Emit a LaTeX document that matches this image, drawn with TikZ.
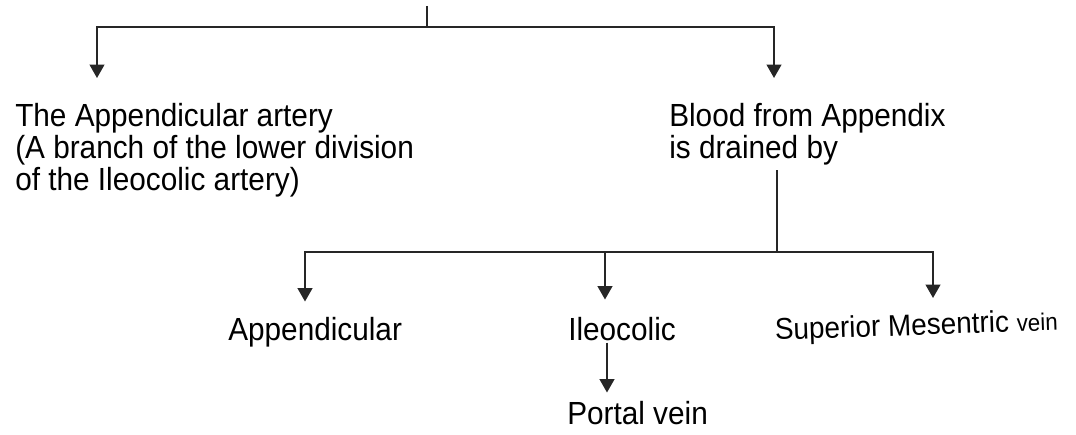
\documentclass[tikz,border=0pt]{standalone}
\usepackage{fontspec}
\setmainfont{Liberation Sans}[FakeStretch=0.93]
\usetikzlibrary{arrows.meta,positioning,calc}

\begin{document}
\begin{tikzpicture}[
    x=0.75pt, y=-0.75pt,
    font=\fontsize{24}{24}\selectfont,
    txt/.style={inner sep=0pt, align=left},
    line/.style={line width=1.4pt, black!85},
    arr/.style={line, -{Triangle[width=11pt, length=10pt]}}
]
\useasboundingbox (0,0) rectangle (1076,435);

% ---- Top level ----
\coordinate (top) at (427,6);
\coordinate (split1) at (427,27);

\node[txt, anchor=north west] (artery) at (15,103)
    {The Appendicular artery\\(A branch of the lower division\\of the Ileocolic artery)};
\node[txt, anchor=north west] (drain) at (669,103)
    {Blood from Appendix\\is drained by};

\draw[line] (top) -- (split1);
\draw[arr] (split1) -| ($(artery.north west)+(82,-25)$);
\draw[arr] (split1) -| ($(drain.north west)+(105,-25)$);

% ---- Drainage ----
\node[txt, anchor=base west] (appx) at (228,340) {Appendicular};
\node[txt, anchor=base west] (ileo) at (568,340) {Ileocolic};
\node[txt, anchor=base west, rotate=2, font=\fontsize{22.5}{22.5}\selectfont] (smv) at (775,340)
    {Superior Mesentric {\fontsize{18}{18}\selectfont vein}};
\node[txt, anchor=base west] (portal) at (567,424) {Portal vein};

\coordinate (split2) at (777,252);
\coordinate (ileotip) at ($(ileo.north west)+(37,-17)$);

\draw[line] ($(drain.south west)+(108,5)$) -- (split2);
\draw[arr] (split2) -| ($(appx.north west)+(77,-15)$);
\draw[arr] (split2) -| ($(smv.base west)+(158,-42)$);
\draw[arr] (split2 -| ileotip) -- (ileotip);
\draw[arr] ($(ileo.south west)+(39,2)$) -- ($(portal.north west)+(40,-8)$);

\end{tikzpicture}
\end{document}
